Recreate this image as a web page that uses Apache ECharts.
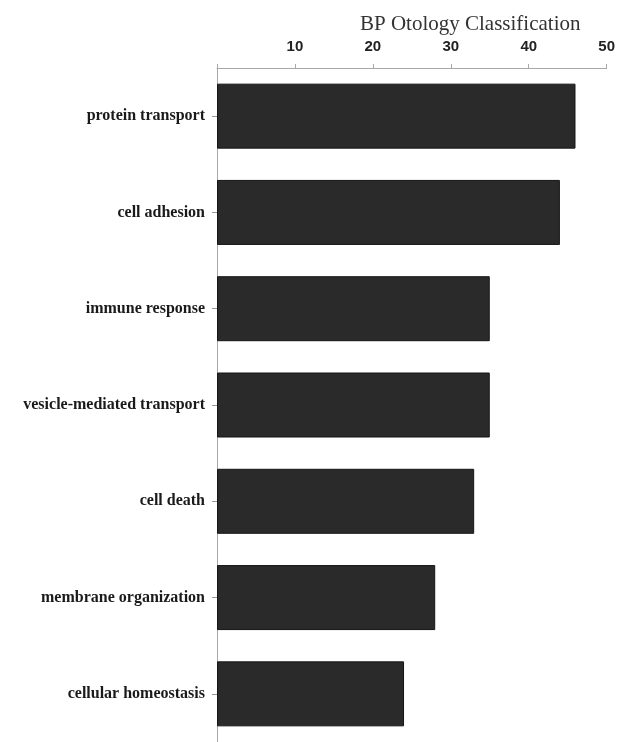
<!DOCTYPE html>
<html>
<head>
<meta charset="utf-8">
<script src="https://cdn.jsdelivr.net/npm/echarts@6/dist/echarts.min.js"></script>
<style>
  html, body { margin: 0; padding: 0; background: #fff; }
  #chart { width: 618px; height: 742px; }
</style>
</head>
<body>
<div id="chart"></div>
<script>
const categories = [
  'protein transport',
  'cell adhesion',
  'immune response',
  'vesicle-mediated transport',
  'cell death',
  'membrane organization',
  'cellular homeostasis'
]
const counts = [46, 44, 35, 35, 33, 28, 24]
const xTicks = [10, 20, 30, 40, 50]

const chart = echarts.init(document.getElementById('chart'))

chart.setOption({
  animation: false,
  backgroundColor: '#fff',
  title: {
    text: 'BP Otology Classification',
    left: 355,
    top: 9,
    textStyle: {
      fontFamily: 'Liberation Serif',
      fontWeight: 'normal',
      fontSize: 21,
      color: '#333'
    }
  },
  grid: {
    left: 217,
    right: 10,
    top: 68,
    height: 678
  },
  xAxis: {
    type: 'value',
    position: 'top',
    min: 0,
    max: 50,
    interval: 10,
    splitLine: { show: false },
    axisLine: { show: true, lineStyle: { color: '#a8a8a8', width: 1 } },
    axisTick: { show: true, length: 4, lineStyle: { color: '#a8a8a8' } },
    axisLabel: {
      margin: 14,
      fontFamily: 'Liberation Sans',
      fontWeight: 'bold',
      fontSize: 15,
      color: '#222',
      formatter: v => (xTicks.includes(v) ? String(v) : '')
    }
  },
  yAxis: {
    type: 'category',
    inverse: true,
    data: categories,
    axisLine: { show: true, lineStyle: { color: '#a8a8a8', width: 1 } },
    axisTick: { show: true, alignWithLabel: true, length: 5, lineStyle: { color: '#999' } },
    axisLabel: {
      margin: 12,
      fontFamily: 'Liberation Serif',
      fontWeight: 'bold',
      fontSize: 16,
      color: '#1a1a1a'
    }
  },
  series: [
    {
      type: 'bar',
      data: counts,
      barWidth: 65,
      itemStyle: {
        color: '#2a2a2a',
        borderColor: '#151515',
        borderWidth: 1
      }
    }
  ]
})
</script>
</body>
</html>
